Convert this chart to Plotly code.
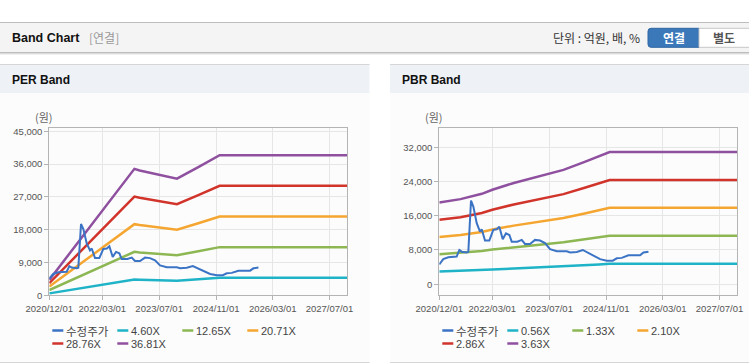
import plotly.graph_objects as go

# ---------------- data ----------------
date_ticks = ["2020-12-01", "2022-03-01", "2023-07-01", "2024-11-01", "2026-03-01", "2027-07-01"]

price_dates = ["2020-12-01", "2021-01-04", "2021-02-16", "2021-04-29", "2021-05-22", "2021-06-11",
               "2021-07-24", "2021-08-07", "2021-08-30", "2021-09-19", "2021-10-18", "2021-11-15",
               "2021-11-30", "2021-12-28", "2022-02-03", "2022-03-09", "2022-04-08", "2022-04-30",
               "2022-05-29", "2022-06-26", "2022-07-25", "2022-08-14", "2022-10-01", "2022-11-08",
               "2022-12-06", "2023-01-18", "2023-03-02", "2023-04-14", "2023-05-27", "2023-07-09",
               "2023-09-05", "2023-11-29", "2023-12-28", "2024-02-23", "2024-04-15", "2024-05-13",
               "2024-07-15", "2024-09-10", "2024-11-07", "2024-12-28", "2025-01-31", "2025-03-15",
               "2025-05-11", "2025-08-19", "2025-09-17", "2025-10-30"]
price_values = [4600, 5850, 6300, 6450, 8000, 7600,
                7400, 7550, 19550, 18150, 14250, 12300,
                12850, 10200, 10200, 12700, 12850, 13450,
                10500, 11900, 11500, 9950, 9950, 10350,
                9400, 9400, 10350, 10200, 9600, 8200,
                7700, 7700, 7400, 7550, 8000, 7600,
                6600, 5850, 5500, 5500, 6050, 6150,
                6750, 6750, 7400, 7600]

per_multiples = [4.60, 12.65, 20.71, 28.76, 36.81]
per_dates = ["2020-12-01", "2021-06-01", "2021-12-01", "2022-06-01", "2022-12-01", "2023-01-15",
             "2023-06-01", "2023-12-01", "2024-06-01", "2024-12-01", "2027-12-01"]
per_x460 = [529, 1481, 2438, 3386, 4333, 4278, 4163, 3997, 4393, 4802, 4802]
per_x1265 = [1455, 4073, 6705, 9310, 11916, 11765, 11448, 10993, 12081, 13207, 13207]
per_x2071 = [2382, 6669, 10976, 15243, 19509, 19260, 18743, 17997, 19778, 21621, 21621]
per_x2876 = [3307, 9261, 15243, 21167, 27092, 26747, 26028, 24992, 27466, 30025, 30025]
per_x3681 = [4233, 11853, 19509, 27092, 34675, 34233, 33313, 31988, 35154, 38430, 38430]
per_yticks = [0, 9000, 18000, 27000, 36000, 45000]

pbr_multiples = [0.56, 1.33, 2.10, 2.86, 3.63]
pbr_dates = ["2020-12-01", "2021-06-01", "2021-12-01", "2022-03-01", "2022-09-01", "2023-03-01",
             "2023-07-01", "2023-11-01", "2024-05-01", "2024-09-01", "2024-12-01", "2027-12-01"]
pbr_x056 = [2946, 3069, 3259, 3405, 3651, 3853, 3987, 4122, 4413, 4620, 4768, 4768]
pbr_x133 = [6996, 7288, 7741, 8086, 8672, 9150, 9470, 9789, 10480, 10973, 11324, 11324]
pbr_x210 = [11046, 11508, 12222, 12768, 13692, 14448, 14952, 15456, 16548, 17325, 17879, 17879]
pbr_x286 = [15044, 15673, 16645, 17389, 18647, 19677, 20363, 21050, 22537, 23595, 24350, 24350]
pbr_x363 = [19094, 19892, 21127, 22070, 23668, 24974, 25846, 26717, 28604, 29948, 30906, 30906]
pbr_yticks = [0, 8000, 16000, 24000, 32000]

price_name = "수정주가"

# ---------------- styles ----------------
W, H = 749, 364
def X(p): return p / W
def Y(p): return 1 - p / H

price_color = "#3b73c5"
band_colors = ["#1eb3c7", "#8db753", "#f5a631", "#d1342b", "#8f519f"]
KFONT = "Noto Sans CJK KR, Noto Sans, sans-serif"
TFONT = "Liberation Sans, Arial, sans-serif"

fig = go.Figure()

per_bands = [per_x460, per_x1265, per_x2071, per_x2876, per_x3681]
pbr_bands = [pbr_x056, pbr_x133, pbr_x210, pbr_x286, pbr_x363]

for vals, m, c in zip(per_bands, per_multiples, band_colors):
    fig.add_trace(go.Scatter(x=per_dates, y=vals, mode="lines", name=f"{m:.2f}X",
                             line=dict(color=c, width=2.5), xaxis="x", yaxis="y",
                             showlegend=False, hoverinfo="skip"))
fig.add_trace(go.Scatter(x=price_dates, y=price_values, mode="lines", name=price_name,
                         line=dict(color=price_color, width=2), xaxis="x", yaxis="y",
                         showlegend=False, hoverinfo="skip"))

for vals, m, c in zip(pbr_bands, pbr_multiples, band_colors):
    fig.add_trace(go.Scatter(x=pbr_dates, y=vals, mode="lines", name=f"{m:.2f}X",
                             line=dict(color=c, width=2.5), xaxis="x2", yaxis="y2",
                             showlegend=False, hoverinfo="skip"))
fig.add_trace(go.Scatter(x=price_dates, y=price_values, mode="lines", name=price_name,
                         line=dict(color=price_color, width=2), xaxis="x2", yaxis="y2",
                         showlegend=False, hoverinfo="skip"))

axis_common = dict(showgrid=True, gridcolor="#e6e6e6", gridwidth=1, zeroline=False,
                   showline=True, linecolor="#b4b4b4", linewidth=1, mirror=True,
                   ticks="outside", ticklen=4, tickcolor="#b4b4b4", automargin=False,
                   tickfont=dict(family=TFONT, size=9.5, color="#555555"))

xcommon = dict(axis_common, type="date", range=["2020-12-01", "2027-12-01"],
               tickvals=date_ticks, tickformat="%Y/%m/%d")

ydom = [Y(295.3), Y(128.3)]
fig.update_layout(
    width=W, height=H, autosize=False,
    margin=dict(l=0, r=0, t=0, b=0, pad=0, autoexpand=False),
    paper_bgcolor="#ffffff", plot_bgcolor="#ffffff",
    showlegend=False,
    xaxis=dict(xcommon, domain=[X(49.3), X(347.3)], anchor="y"),
    yaxis=dict(axis_common, domain=ydom, range=[0, 45800], tickvals=per_yticks,
               tickformat=",d", anchor="x"),
    xaxis2=dict(xcommon, domain=[X(439.3), X(737.3)], anchor="y2"),
    yaxis2=dict(axis_common, domain=ydom, range=[-2600, 36450], tickvals=pbr_yticks,
                tickformat=",d", anchor="x2"),
)

shapes = []
def rect(x0, y0, x1, y1, fill, line=None, lw=0):
    shapes.append(dict(type="rect", xref="paper", yref="paper", x0=X(x0), x1=X(x1),
                       y0=Y(y1), y1=Y(y0), fillcolor=fill, layer="below",
                       line=dict(color=line or fill, width=lw)))
def hline(x0, x1, y, color, w=1, layer="below"):
    shapes.append(dict(type="line", xref="paper", yref="paper", x0=X(x0), x1=X(x1),
                       y0=Y(y), y1=Y(y), line=dict(color=color, width=w), layer=layer))

# top header bar
hline(0, 749, 22.5, "#bdbdbd")
rect(0, 23, 749, 52, "#f4f4f4")
hline(0, 749, 52.5, "#bcbcbc")
hline(0, 749, 53.5, "#dcdcdc")
hline(0, 749, 54.5, "#efefef")
# panels
for x0, x1 in [(0, 369.5), (390, 749)]:
    rect(x0, 93, x1, 362, "#fcfcfc")
    rect(x0, 64.5, x1, 93, "#eef2f7")
    hline(x0, x1, 64.5, "#d6d6d6")
    hline(x0, x1, 362.5, "#d6d6d6")
# buttons
shapes.append(dict(type="path", xref="paper", yref="paper", layer="above",
                   path=f"M {X(699)},{Y(28.3)} L {X(651)},{Y(28.3)} Q {X(648)},{Y(28.3)} {X(648)},{Y(31.3)} "
                        f"L {X(648)},{Y(44.3)} Q {X(648)},{Y(47.3)} {X(651)},{Y(47.3)} L {X(699)},{Y(47.3)} Z",
                   fillcolor="#3b78ba", line=dict(color="#2f66a3", width=1)))
shapes.append(dict(type="rect", xref="paper", yref="paper", layer="above",
                   x0=X(699), x1=X(750), y0=Y(47.3), y1=Y(28.3),
                   fillcolor="#ffffff", line=dict(color="#c6c6c6", width=1)))

annotations = []
def text(t, x, y, size=12, color="#333", family=KFONT, anchor="left", bold=False):
    if bold:
        t = f"<b>{t}</b>"
    annotations.append(dict(text=t, x=X(x), y=Y(y), xref="paper", yref="paper",
                            xanchor=anchor, yanchor="middle", showarrow=False, borderpad=0,
                            font=dict(size=size, color=color, family=family)))

text("Band Chart", 11, 38, size=12.5, color="#111", family=TFONT, bold=True)
text("[연결]", 88, 38, size=12, color="#999999")
text("단위 : 억원, 배, %", 552, 38, size=12, color="#333333")
text("연결", 673.5, 38, size=12, color="#ffffff", anchor="center", bold=True)
text("별도", 724, 38, size=12, color="#555555", anchor="center", bold=True)
text("PER Band", 11, 80, size=12, color="#111", family=TFONT, bold=True)
text("PBR Band", 401, 80, size=12, color="#111", family=TFONT, bold=True)
text("(원)", 44, 117.5, size=11, color="#666666", anchor="center")
text("(원)", 434, 117.5, size=11, color="#666666", anchor="center")

# manual legends
legend_pos = [(52.3, 330.5), (117.3, 330.5), (182.3, 330.5), (247.3, 330.5), (52.3, 343.5), (117.3, 343.5)]
for off, mults in [(0, per_multiples), (390, pbr_multiples)]:
    labels = [price_name] + [f"{m:.2f}X" for m in mults]
    colors = [price_color] + band_colors
    for (lx, ly), lab, col in zip(legend_pos, labels, colors):
        x0 = lx + off
        shapes.append(dict(type="line", xref="paper", yref="paper", x0=X(x0), x1=X(x0 + 11),
                           y0=Y(ly), y1=Y(ly), line=dict(color=col, width=2.5)))
        if lab == price_name:
            text(lab, x0 + 13, ly, size=11.5, color="#444444", family=KFONT)
        else:
            text(lab, x0 + 13, ly, size=11, color="#444444", family=TFONT)

fig.update_layout(shapes=shapes, annotations=annotations)

fig.write_html("out.html", config={"displayModeBar": False},
               post_script="document.body.style.margin='0';document.body.style.overflow='hidden';")
